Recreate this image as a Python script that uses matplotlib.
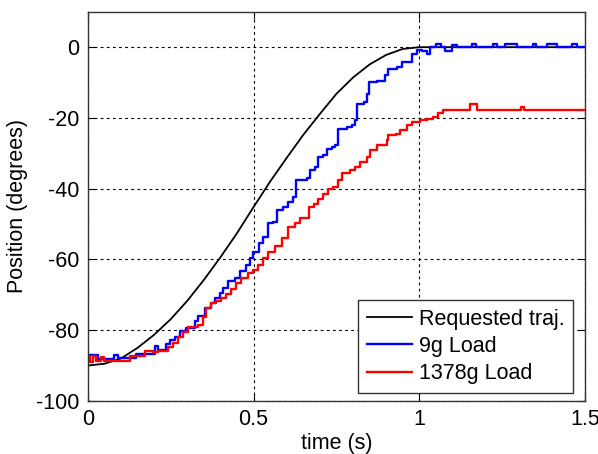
import numpy as np
import matplotlib
matplotlib.use("Agg")
import matplotlib.pyplot as plt

plt.rcParams['font.family'] = ['Liberation Sans', 'DejaVu Sans']
plt.rcParams['axes.unicode_minus'] = False

# requested trajectory (smooth)
t_req = [0.0, 0.05, 0.1, 0.15, 0.2, 0.25, 0.3, 0.35, 0.4, 0.45, 0.5, 0.55,
         0.6, 0.65, 0.7, 0.75, 0.8, 0.85, 0.9, 0.95, 1.0, 1.5]
p_req = [-90.0, -89.5, -88.0, -85.0, -81.3, -76.9, -71.7, -65.8, -59.4, -52.6,
         -45.2, -38.0, -31.3, -24.8, -18.9, -13.2, -8.6, -4.9, -2.2, -0.5, 0.0, 0.0]

# 9g load response
t_9g = [0.000, 0.030, 0.078, 0.090, 0.146, 0.204, 0.212, 0.236, 0.247, 0.262,
        0.277, 0.297, 0.322, 0.332, 0.352, 0.373, 0.383, 0.398, 0.408, 0.423,
        0.443, 0.458, 0.478, 0.488, 0.498, 0.515, 0.530, 0.545, 0.560, 0.570,
        0.590, 0.605, 0.620, 0.628, 0.661, 0.671, 0.686, 0.696, 0.711, 0.721,
        0.736, 0.746, 0.756, 0.781, 0.797, 0.807, 0.812, 0.832, 0.842, 0.847,
        0.872, 0.897, 0.907, 0.932, 0.947, 0.978, 0.993, 1.008, 1.023, 1.033,
        1.050, 1.065, 1.078, 1.098, 1.115, 1.158, 1.172, 1.222, 1.236, 1.258,
        1.295, 1.345, 1.352, 1.385, 1.416, 1.461, 1.476, 1.500]
p_9g = [-86.9, -88.3, -87.0, -87.9, -86.7, -84.6, -85.5, -84.0, -82.7, -82.0,
        -80.3, -79.4, -77.5, -76.0, -73.7, -72.3, -70.9, -69.5, -68.0, -66.2,
        -65.3, -63.4, -61.5, -59.6, -57.8, -55.5, -53.6, -49.8, -49.4, -46.1,
        -45.1, -43.7, -42.3, -37.6, -37.1, -34.8, -33.8, -31.0, -30.5, -28.7,
        -28.2, -27.7, -23.0, -22.5, -22.0, -20.7, -16.0, -15.5, -13.2, -9.9,
        -9.5, -8.0, -6.1, -5.7, -4.3, -1.9, -0.8, -1.0, -1.9, 0.0,
        1.0, 0.0, -1.0, 0.7, 0.0, 1.0, 0.0, 1.0, 0.0, 1.0,
        0.0, 1.0, 0.0, 1.0, 0.0, 1.0, 0.0, 0.0]

# 1378g load response
t_1378g = [0.000, 0.005, 0.015, 0.025, 0.040, 0.050, 0.126, 0.171, 0.186, 0.196,
           0.211, 0.242, 0.257, 0.272, 0.287, 0.302, 0.332, 0.347, 0.357, 0.373,
           0.388, 0.403, 0.418, 0.433, 0.448, 0.463, 0.483, 0.498, 0.514, 0.529,
           0.545, 0.565, 0.585, 0.605, 0.625, 0.640, 0.666, 0.681, 0.696, 0.711,
           0.726, 0.740, 0.756, 0.766, 0.790, 0.807, 0.822, 0.842, 0.852, 0.872,
           0.902, 0.907, 0.930, 0.943, 0.963, 0.978, 1.003, 1.023, 1.043, 1.058,
           1.073, 1.152, 1.174, 1.308, 1.316, 1.500]
p_1378g = [-87.4, -89.0, -87.2, -88.8, -87.6, -88.8, -87.4, -86.0, -85.8, -86.3,
           -86.0, -84.9, -83.5, -82.0, -80.4, -79.0, -78.5, -76.2, -73.7, -72.3,
           -71.8, -70.9, -69.9, -68.5, -66.6, -65.2, -63.8, -62.9, -61.5, -59.6,
           -58.0, -56.3, -54.0, -50.8, -49.8, -48.4, -45.1, -44.2, -42.8, -41.4,
           -40.0, -39.5, -37.6, -35.7, -34.8, -33.8, -32.4, -31.0, -29.2, -27.7,
           -26.3, -24.9, -24.5, -23.5, -22.0, -21.1, -20.7, -20.2, -19.7, -18.7,
           -17.9, -16.0, -17.9, -16.9, -17.9, -17.9]

fs = 15.5
fig = plt.figure(figsize=(5.98, 4.54), dpi=100)
ax = fig.add_axes([0.147, 0.117, 0.831, 0.857])

ax.plot(t_req, p_req, color='black', lw=1.3, label='Requested traj.')
ax.plot(t_9g, p_9g, color='#0000ff', lw=1.7, drawstyle='steps-post', label='9g Load')
ax.plot(t_1378g, p_1378g, color='#ff0000', lw=1.7, drawstyle='steps-post', label='1378g Load')

ax.set_xlim(0, 1.5)
ax.set_ylim(-100, 10)
ax.set_xticks([0, 0.5, 1, 1.5])
ax.set_xticklabels(['0', '0.5', '1', '1.5'])
ax.set_yticks([-100, -80, -60, -40, -20, 0])
ax.grid(True, color='black', linestyle=(0, (2.5, 3)), lw=0.8)
ax.tick_params(direction='in', top=True, right=True, length=5, labelsize=fs, pad=6)
for s in ax.spines.values():
    s.set_linewidth(1.0)
    s.set_color('#333333')

ax.set_xlabel('time (s)', fontsize=fs, labelpad=2)
ax.set_ylabel('Position (degrees)', fontsize=fs, labelpad=6)

leg = ax.legend(loc='lower right', bbox_to_anchor=(0.976, 0.02), borderaxespad=0,
                fontsize=fs, fancybox=False, framealpha=1, edgecolor='#333333',
                handlelength=2.1, handletextpad=0.3, labelspacing=0.3,
                borderpad=0.4)
leg.get_frame().set_linewidth(1.0)

plt.savefig('out.png', dpi=100)
